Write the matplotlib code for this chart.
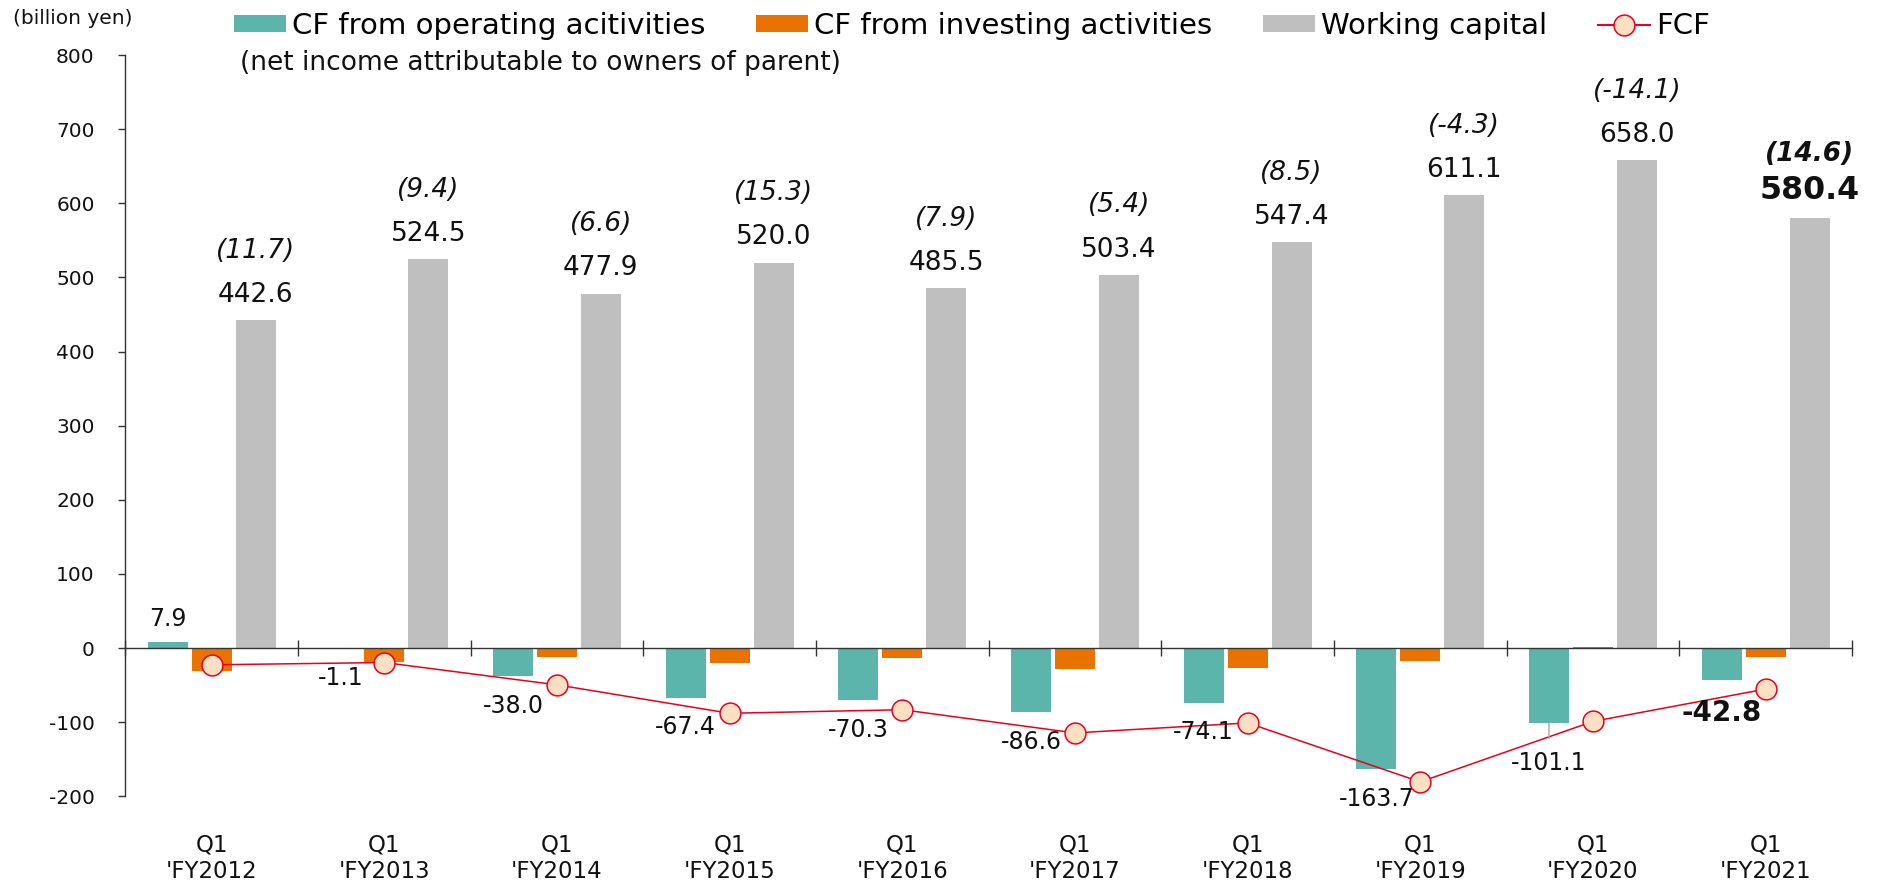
import matplotlib
matplotlib.use('Agg')
import matplotlib.pyplot as plt
import matplotlib.transforms as mtransforms
from matplotlib.lines import Line2D
from matplotlib.patches import Patch
import numpy as np

# ---------------- data ----------------
quarter_labels = ['Q1'] * 10
fiscal_years = ["'FY2012", "'FY2013", "'FY2014", "'FY2015", "'FY2016",
                "'FY2017", "'FY2018", "'FY2019", "'FY2020", "'FY2021"]
cf_operating = [7.9, -1.1, -38.0, -67.4, -70.3, -86.6, -74.1, -163.7, -101.1, -42.8]
cf_investing = [-30.6, -18.5, -11.7, -20.7, -13.0, -28.0, -27.0, -17.0, 2.0, -12.6]
working_capital = [442.6, 524.5, 477.9, 520.0, 485.5, 503.4, 547.4, 611.1, 658.0, 580.4]
net_income = [11.7, 9.4, 6.6, 15.3, 7.9, 5.4, 8.5, -4.3, -14.1, 14.6]
fcf = [-22.7, -19.6, -49.7, -88.1, -83.3, -114.6, -101.1, -180.7, -99.1, -55.4]
y_ticks = list(range(-200, 801, 100))

legend_labels = ['CF from operating acitivities', 'CF from investing activities',
                 'Working capital', 'FCF']
subnote = '(net income attributable to owners of parent)'
unit_label = '(billion yen)'

# ---------------- style ----------------
TEAL = '#5cb5aa'
ORANGE = '#e97300'
GRAY = '#bfbfbf'
RED = '#e8001c'
PEACH = '#fde0c4'
AXC = '#333333'
FONT = 'DejaVu Sans'

# label offsets (points) for operating CF labels (style only)
op_label_offsets = [11.9, -26.3, -26.3, -26.3, -26.3, -26.3, -26.3, -26.3, -33.8, -30.0]

W, H = 1879, 883
fig = plt.figure(figsize=(W / 100, H / 100), dpi=100)
plt.rcParams['font.family'] = [FONT]

ax = fig.add_axes([125.2 / W, 1 - 796.2 / H, (1852 - 125.2) / W, (796.2 - 55.2) / H])

n = len(working_capital)
x = np.arange(n)
bw = 0.2316
off = 0.2548

ax.bar(x - off, cf_operating, bw, color=TEAL, zorder=2)
ax.bar(x, cf_investing, bw, color=ORANGE, zorder=2)
ax.bar(x + off, working_capital, bw, color=GRAY, zorder=2)
ax.plot(x, fcf, color=RED, lw=1.1, marker='o', ms=15, mfc=PEACH, mec=RED,
        mew=1.1, zorder=4)

ax.set_xlim(-0.5, n - 0.5)
ax.set_ylim(-200, 800)

# axes styling
for s in ['top', 'right']:
    ax.spines[s].set_visible(False)
ax.spines['bottom'].set_position(('data', 0))
ax.spines['bottom'].set_color(AXC)
ax.spines['left'].set_color(AXC)
ax.spines['bottom'].set_linewidth(1.0)
ax.spines['left'].set_linewidth(1.0)
ax.spines['bottom'].set_zorder(3)

ax.set_yticks(y_ticks)
ax.set_yticklabels([str(t) for t in y_ticks])
ax.tick_params(axis='y', direction='out', length=5, width=1.0, color=AXC,
               labelsize=14.5, pad=17, labelcolor='#111111')
ax.set_xticks(np.arange(-0.5, n, 1.0))
ax.set_xticklabels([])
ax.tick_params(axis='x', direction='inout', length=11, width=1.0, color=AXC)

# working capital + net income labels
for i, (v, ni) in enumerate(zip(working_capital, net_income)):
    hl = (i == n - 1)
    ax.annotate(f'{v:.1f}', (x[i] + off, v), xytext=(0, 13.3), textcoords='offset points',
                ha='center', va='baseline', fontsize=22.8 if hl else 19,
                fontweight='bold' if hl else 'normal', color='#111111', zorder=6)
    ax.annotate(f'({ni:.1f})', (x[i] + off, v), xytext=(0, 41 if hl else 45),
                textcoords='offset points', ha='center', va='baseline', fontsize=19,
                style='italic', fontweight='bold' if hl else 'normal',
                color='#111111', zorder=6)

# operating CF labels
for i, v in enumerate(cf_operating):
    hl = (i == n - 1)
    kw = {}
    if i == 8:
        kw['arrowprops'] = dict(arrowstyle='-', color='#a6a6a6', lw=1.0,
                                shrinkA=7, shrinkB=0, relpos=(0.5, 1.0))
    ax.annotate(f'{v:.1f}', (x[i] - off, v), xytext=(0, op_label_offsets[i]),
                textcoords='offset points', ha='center', va='baseline',
                fontsize=20 if hl else 17, fontweight='bold' if hl else 'normal',
                color='#111111', zorder=7, **kw)

# category labels
trans = mtransforms.blended_transform_factory(ax.transData, fig.transFigure)
for i in range(n):
    ax.text(x[i], 1 - 851 / H, quarter_labels[i], transform=trans, ha='center',
            va='baseline', fontsize=16.5, color='#111111')
    ax.text(x[i], 1 - 878.3 / H, fiscal_years[i], transform=trans, ha='center',
            va='baseline', fontsize=16.5, color='#111111')

# unit and note
fig.text(13 / W, 1 - 19 / H, unit_label, ha='left', va='center', fontsize=14.5,
         color='#111111')
fig.text(240 / W, 1 - 63 / H, subnote, ha='left', va='center', fontsize=19,
         color='#111111')

handles = [Patch(facecolor=TEAL, edgecolor='none'),
           Patch(facecolor=ORANGE, edgecolor='none'),
           Patch(facecolor=GRAY, edgecolor='none'),
           Line2D([], [], color=RED, lw=1.5, marker='o', ms=15, mfc=PEACH, mec=RED, mew=1.1)]
fig.legend(handles, legend_labels, loc='center left', bbox_to_anchor=(234 / W, 1 - 26 / H),
           ncol=4, frameon=False, fontsize=21, handlelength=1.78, handleheight=0.51,
           handletextpad=0.2, columnspacing=1.75, borderpad=0, borderaxespad=0)

fig.savefig('out.png', dpi=100)
